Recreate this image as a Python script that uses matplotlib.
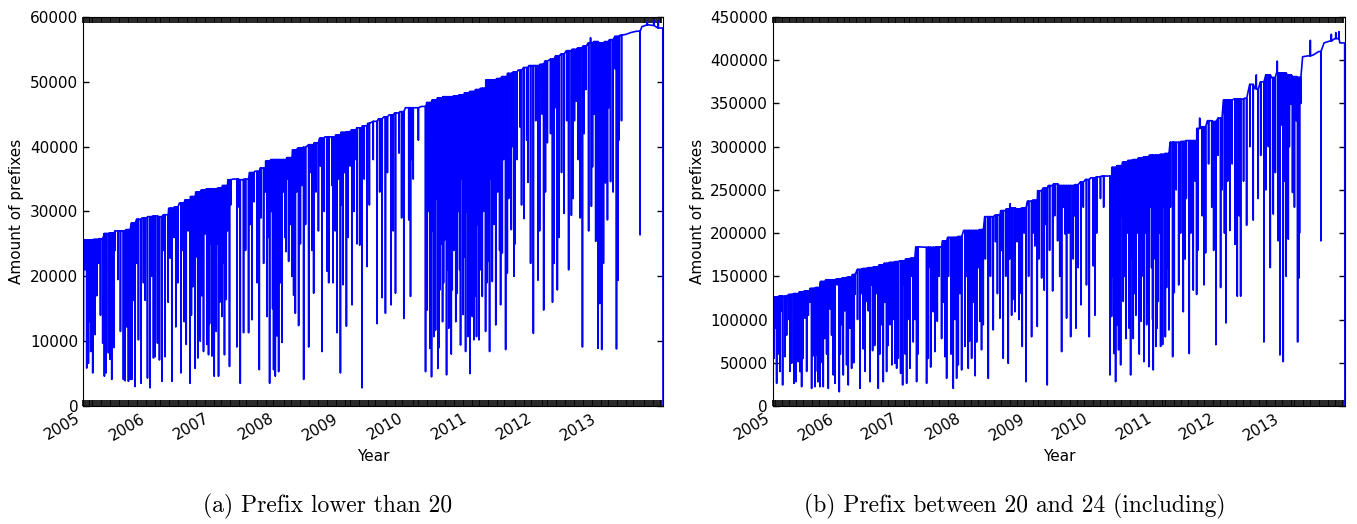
import numpy as np
import matplotlib
matplotlib.use('Agg')
import matplotlib.pyplot as plt
import matplotlib.dates as mdates

months = np.arange('2005-01', '2014-01', dtype='datetime64[M]')
end_date = np.datetime64('2013-12-30')

# monthly table level, prefixes shorter than /20
level_a = [25600, 25600, 25700, 25800, 26600, 26700, 27000, 27000, 27200, 28200, 28800, 29000,
           29200, 29300, 29200, 29500, 30500, 30700, 31300, 31800, 32300, 33000, 33300, 33500,
           33500, 33600, 34000, 34900, 35000, 34900, 35000, 36000, 36200, 36700, 37800, 38000,
           38000, 38000, 38300, 39500, 39800, 39900, 40300, 40600, 41300, 41500, 41500, 41800,
           42200, 42300, 42600, 42900, 43200, 43600, 43900, 44300, 44600, 44900, 45200, 45400,
           46000, 46000, 46000, 46200, 46800, 47200, 47500, 47700, 47700, 47800, 48000, 48300,
           48500, 48800, 49000, 50300, 50300, 50500, 50800, 51300, 51500, 51800, 52200, 52500,
           52500, 52700, 53200, 53500, 54000, 54300, 54800, 55000, 55200, 55500, 56000, 56200,
           56000, 56200, 56500, 57000, 57200, 57300, 57600, 57800, 58500, 58800, 58700, 58300]

# days with incomplete dumps: (decimal year, prefix count)
dips_a = [
    (2005.005, 9900), (2005.030, 21000), (2005.057, 5850), (2005.083, 6600), (2005.090, 13000),
    (2005.119, 8400), (2005.135, 19000), (2005.150, 5100), (2005.186, 11000), (2005.212, 17000),
    (2005.240, 22000), (2005.270, 14000), (2005.305, 9700), (2005.331, 4600), (2005.357, 5100),
    (2005.393, 8200), (2005.419, 7200), (2005.445, 4100), (2005.471, 19000), (2005.480, 9000),
    (2005.497, 24000), (2005.540, 19500), (2005.580, 11500), (2005.626, 4100), (2005.652, 3900),
    (2005.678, 12200), (2005.704, 3800), (2005.730, 4100), (2005.756, 4100), (2005.781, 16300),
    (2005.807, 3000), (2005.834, 22000), (2005.859, 10200), (2005.901, 3500), (2005.937, 19000),
    (2005.963, 16300), (2005.999, 4300), (2006.040, 2800), (2006.060, 20000), (2006.092, 7400),
    (2006.118, 7600), (2006.154, 9700), (2006.185, 7100), (2006.222, 3800), (2006.250, 24000),
    (2006.273, 7600), (2006.320, 16000), (2006.351, 22800), (2006.377, 3800), (2006.410, 26000),
    (2006.439, 12200), (2006.470, 19000), (2006.517, 5100), (2006.540, 24000), (2006.568, 13000),
    (2006.600, 9500), (2006.630, 27000), (2006.661, 3500), (2006.680, 14000), (2006.702, 18400),
    (2006.739, 5800), (2006.760, 23000), (2006.780, 7400), (2006.800, 26000), (2006.817, 10000),
    (2006.840, 17000), (2006.868, 8400), (2006.890, 26500), (2006.920, 9500), (2006.930, 20000),
    (2006.946, 7900), (2006.962, 12700), (2006.980, 25000), (2006.998, 7700), (2007.020, 27000),
    (2007.034, 4600), (2007.050, 19000), (2007.065, 11500), (2007.080, 25000), (2007.101, 4600),
    (2007.120, 16000), (2007.140, 28000), (2007.153, 13800), (2007.170, 22000), (2007.193, 7900),
    (2007.220, 16400), (2007.240, 27000), (2007.271, 6100), (2007.290, 31000), (2007.386, 9100),
    (2007.410, 30700), (2007.438, 3500), (2007.489, 11300), (2007.520, 24000), (2007.567, 11300),
    (2007.590, 28000), (2007.619, 13300), (2007.650, 31500), (2007.700, 19000), (2007.733, 5600),
    (2007.760, 29000), (2007.800, 22000), (2007.830, 33000), (2007.852, 13800), (2007.870, 26000),
    (2007.893, 3500), (2007.920, 30000), (2007.940, 15000), (2007.955, 5600), (2007.970, 24000),
    (2007.981, 4600), (2008.007, 10800), (2008.020, 27000), (2008.033, 5300), (2008.050, 32000),
    (2008.065, 19000), (2008.085, 9800), (2008.110, 33000), (2008.130, 26000), (2008.147, 23800),
    (2008.170, 35000), (2008.188, 22300), (2008.220, 28000), (2008.240, 20000), (2008.266, 17100),
    (2008.292, 14300), (2008.310, 33000), (2008.343, 12400), (2008.370, 25000), (2008.400, 34000),
    (2008.421, 4100), (2008.450, 28000), (2008.499, 9100), (2008.520, 36000), (2008.550, 24000),
    (2008.576, 17400), (2008.610, 33000), (2008.650, 27000), (2008.680, 37000), (2008.706, 8400),
    (2008.740, 30000), (2008.783, 20800), (2008.809, 19000), (2008.860, 34000), (2008.877, 19000),
    (2008.910, 27000), (2008.939, 11300), (2008.960, 35000), (2008.991, 5100), (2009.010, 31000),
    (2009.033, 18700), (2009.060, 36000), (2009.084, 12300), (2009.110, 26000), (2009.140, 37000),
    (2009.172, 15600), (2009.200, 30000), (2009.230, 38000), (2009.250, 25000), (2009.290, 24800),
    (2009.327, 2800), (2009.360, 35000), (2009.405, 21500), (2009.440, 31000), (2009.500, 38000),
    (2009.560, 12700), (2009.600, 33000), (2009.638, 16700), (2009.689, 14300), (2009.720, 36000),
    (2009.778, 15600), (2009.810, 27000), (2009.845, 17400), (2009.900, 39000), (2009.940, 29000),
    (2009.974, 13500), (2010.051, 28700), (2010.078, 16900), (2010.100, 38000), (2010.120, 35000),
    (2010.200, 41000), (2010.311, 5300), (2010.320, 24000), (2010.337, 14800), (2010.350, 30000),
    (2010.378, 8900), (2010.390, 18000), (2010.404, 4500), (2010.420, 27000), (2010.440, 10700),
    (2010.450, 20000), (2010.466, 11700), (2010.480, 32000), (2010.502, 5800), (2010.520, 9000),
    (2010.533, 17900), (2010.550, 25000), (2010.575, 13000), (2010.590, 19000), (2010.606, 25600),
    (2010.620, 33000), (2010.637, 4800), (2010.650, 21000), (2010.673, 12000), (2010.690, 28000),
    (2010.710, 8000), (2010.725, 17900), (2010.750, 24000), (2010.780, 13000), (2010.802, 17400),
    (2010.820, 30000), (2010.840, 21000), (2010.854, 9400), (2010.870, 35000), (2010.895, 14100),
    (2010.910, 23000), (2010.932, 8400), (2010.950, 30000), (2010.968, 10700), (2010.980, 18000),
    (2010.999, 5000), (2011.020, 26000), (2011.036, 13800), (2011.050, 33000), (2011.061, 10200),
    (2011.080, 17000), (2011.102, 10700), (2011.120, 28000), (2011.139, 10200), (2011.160, 21000),
    (2011.191, 16900), (2011.220, 30000), (2011.242, 11500), (2011.260, 19000), (2011.278, 22300),
    (2011.304, 8400), (2011.320, 35000), (2011.346, 19200), (2011.370, 28000), (2011.400, 12500),
    (2011.430, 33000), (2011.460, 24000), (2011.475, 15600), (2011.501, 23600), (2011.520, 38000),
    (2011.553, 8700), (2011.579, 20500), (2011.600, 32000), (2011.641, 27200), (2011.660, 40000),
    (2011.682, 20000), (2011.700, 25000), (2011.730, 38000), (2011.780, 43000), (2011.800, 31000),
    (2011.837, 28900), (2011.880, 41000), (2011.900, 34500), (2011.940, 22000), (2011.983, 11200),
    (2012.020, 44000), (2012.055, 19400), (2012.080, 27000), (2012.120, 45000), (2012.143, 14800),
    (2012.170, 33000), (2012.200, 40600), (2012.250, 42000), (2012.280, 16000), (2012.303, 22000),
    (2012.330, 46000), (2012.355, 17900), (2012.380, 26000), (2012.420, 36000), (2012.458, 29700),
    (2012.500, 44000), (2012.530, 21000), (2012.573, 29400), (2012.600, 32000), (2012.620, 44000),
    (2012.650, 47000), (2012.680, 38000), (2012.710, 29000), (2012.744, 9100), (2012.770, 42000),
    (2012.800, 48800), (2012.840, 27000), (2012.870, 56800), (2012.883, 30800), (2012.900, 36900),
    (2012.930, 45000), (2012.950, 25400), (2012.970, 31000), (2012.986, 8900), (2013.012, 15800),
    (2013.020, 40000), (2013.043, 8700), (2013.050, 48000), (2013.070, 22000), (2013.100, 34400),
    (2013.132, 28700), (2013.150, 46000), (2013.180, 34600), (2013.220, 33000), (2013.250, 52000),
    (2013.272, 8800), (2013.297, 19400), (2013.310, 41000), (2013.350, 44000), (2013.638, 26400),
    (2013.750, 59300), (2013.850, 59500), (2013.920, 59400),
]

# monthly table level, prefixes /20 to /24
level_b = [126000, 127000, 127000, 129000, 130000, 132000, 133000, 136000, 137000, 144000, 146000, 146000,
           147000, 148000, 149000, 152000, 158000, 159000, 160000, 161000, 163000, 165000, 166000, 167000,
           168000, 170000, 171000, 184000, 184000, 183500, 183500, 184000, 191000, 195000, 195000, 196000,
           203000, 203000, 203000, 204000, 219000, 219000, 221000, 226000, 228000, 229000, 228000, 229000,
           237000, 238000, 249000, 252000, 255000, 257000, 255000, 255000, 255000, 256000, 259000, 262000,
           264000, 265000, 266000, 266000, 276000, 278000, 282000, 284000, 285000, 287000, 288000, 290000,
           290000, 291000, 292000, 305000, 305000, 306000, 307000, 307000, 321000, 323000, 330000, 329000,
           333000, 354000, 354000, 355000, 355000, 356000, 372000, 367000, 375000, 383000, 380000, 385000,
           385000, 383000, 381000, 380000, 404000, 405000, 406000, 410000, 420000, 422000, 425000, 420000]

dips_b = [
    (2005.016, 55100), (2005.030, 90000), (2005.058, 26200), (2005.080, 60000), (2005.110, 39800),
    (2005.130, 110000), (2005.152, 24300), (2005.189, 57000), (2005.215, 82000), (2005.250, 100000),
    (2005.270, 40000), (2005.294, 49400), (2005.330, 26200), (2005.350, 90000), (2005.362, 28100),
    (2005.398, 51300), (2005.410, 70000), (2005.425, 39800), (2005.451, 22300), (2005.470, 55000),
    (2005.503, 101600), (2005.530, 40000), (2005.556, 105000), (2005.580, 120000), (2005.608, 20400),
    (2005.630, 58000), (2005.660, 22300), (2005.687, 59000), (2005.700, 40000), (2005.710, 28000),
    (2005.739, 22300), (2005.750, 50000), (2005.765, 82000), (2005.791, 22300), (2005.818, 78000),
    (2005.844, 60000), (2005.860, 115000), (2005.870, 20400), (2005.900, 112000), (2005.922, 82000),
    (2005.949, 35900), (2005.960, 60000), (2005.975, 26200), (2006.010, 140000), (2006.043, 16500),
    (2006.060, 60000), (2006.080, 94000), (2006.106, 35900), (2006.130, 110000), (2006.158, 47500),
    (2006.184, 24300), (2006.210, 90000), (2006.237, 43600), (2006.270, 50000), (2006.289, 129000),
    (2006.330, 100000), (2006.368, 20400), (2006.390, 130000), (2006.420, 66000), (2006.450, 40000),
    (2006.473, 121000), (2006.500, 110000), (2006.525, 28100), (2006.550, 140000), (2006.567, 64000),
    (2006.600, 70000), (2006.630, 130000), (2006.656, 20400), (2006.680, 60000), (2006.708, 94000),
    (2006.735, 28100), (2006.760, 120000), (2006.787, 39800), (2006.810, 70000), (2006.840, 94000),
    (2006.860, 140000), (2006.871, 47500), (2006.900, 100000), (2006.918, 49400), (2006.945, 43600),
    (2006.960, 130000), (2006.971, 55100), (2007.008, 37800), (2007.020, 100000), (2007.039, 24300),
    (2007.060, 140000), (2007.080, 60000), (2007.102, 26200), (2007.120, 100000), (2007.154, 43600),
    (2007.180, 150000), (2007.206, 74000), (2007.230, 100000), (2007.259, 28100), (2007.280, 60000),
    (2007.416, 26200), (2007.442, 55100), (2007.450, 160000), (2007.480, 45000), (2007.521, 109000),
    (2007.547, 62900), (2007.560, 100000), (2007.584, 98000), (2007.610, 150000), (2007.652, 78000),
    (2007.680, 120000), (2007.704, 57000), (2007.731, 32000), (2007.760, 150000), (2007.800, 60000),
    (2007.835, 20400), (2007.860, 100000), (2007.888, 32000), (2007.914, 47500), (2007.940, 130000),
    (2007.967, 41700), (2008.019, 68900), (2008.040, 150000), (2008.071, 43600), (2008.090, 75000),
    (2008.124, 55100), (2008.150, 120000), (2008.180, 35000), (2008.203, 74000), (2008.230, 160000),
    (2008.255, 98000), (2008.280, 65000), (2008.307, 94000), (2008.340, 170000), (2008.386, 32000),
    (2008.420, 150000), (2008.464, 88000), (2008.500, 190000), (2008.530, 130000), (2008.569, 101600),
    (2008.590, 180000), (2008.621, 55100), (2008.660, 150000), (2008.700, 49400), (2008.720, 170000),
    (2008.730, 234000), (2008.753, 105000), (2008.769, 123000), (2008.805, 109000), (2008.840, 190000),
    (2008.868, 100000), (2008.880, 130000), (2008.920, 68900), (2008.950, 200000), (2008.978, 28100),
    (2009.020, 150000), (2009.067, 80100), (2009.090, 200000), (2009.120, 185000), (2009.156, 92000),
    (2009.180, 170000), (2009.225, 148000), (2009.266, 134000), (2009.290, 210000), (2009.313, 24300),
    (2009.350, 180000), (2009.398, 133000), (2009.430, 220000), (2009.476, 191000), (2009.510, 150000),
    (2009.539, 62900), (2009.570, 230000), (2009.591, 199000), (2009.617, 101600), (2009.650, 200000),
    (2009.681, 80100), (2009.722, 170000), (2009.740, 220000), (2009.764, 90000), (2009.800, 160000),
    (2009.843, 117000), (2009.880, 230000), (2009.930, 140000), (2009.974, 80100), (2010.037, 162000),
    (2010.063, 105000), (2010.090, 200000), (2010.150, 240000), (2010.200, 230000), (2010.299, 35900),
    (2010.310, 200000), (2010.325, 103600), (2010.340, 150000), (2010.362, 60700), (2010.388, 28100),
    (2010.400, 180000), (2010.414, 94000), (2010.435, 64800), (2010.450, 130000), (2010.467, 47500),
    (2010.490, 220000), (2010.508, 121000), (2010.530, 150000), (2010.550, 78000), (2010.570, 200000),
    (2010.600, 90000), (2010.624, 35900), (2010.640, 170000), (2010.665, 78000), (2010.680, 130000),
    (2010.708, 105000), (2010.730, 200000), (2010.760, 60000), (2010.786, 98000), (2010.800, 150000),
    (2010.833, 51300), (2010.850, 200000), (2010.876, 94000), (2010.890, 120000), (2010.912, 45500),
    (2010.930, 230000), (2010.954, 160000), (2010.970, 100000), (2010.980, 41700), (2011.010, 170000),
    (2011.022, 68900), (2011.040, 90000), (2011.058, 121000), (2011.080, 200000), (2011.096, 68900),
    (2011.110, 130000), (2011.127, 71000), (2011.150, 230000), (2011.170, 80000), (2011.190, 137000),
    (2011.210, 160000), (2011.226, 88000), (2011.250, 230000), (2011.285, 57000), (2011.300, 180000),
    (2011.310, 131000), (2011.340, 250000), (2011.380, 140000), (2011.410, 200000), (2011.452, 109000),
    (2011.480, 170000), (2011.500, 240000), (2011.546, 60700), (2011.570, 200000), (2011.609, 134000),
    (2011.640, 260000), (2011.662, 129000), (2011.680, 180000), (2011.710, 333000), (2011.750, 220000),
    (2011.780, 140000), (2011.803, 177000), (2011.850, 280000), (2011.900, 230000), (2011.930, 180000),
    (2011.965, 70900), (2012.000, 290000), (2012.039, 137000), (2012.060, 250000), (2012.100, 200000),
    (2012.123, 96000), (2012.150, 260000), (2012.186, 203000), (2012.220, 280000), (2012.264, 187000),
    (2012.301, 127000), (2012.330, 220000), (2012.354, 127000), (2012.400, 260000), (2012.448, 209000),
    (2012.500, 300000), (2012.552, 215000), (2012.600, 383000), (2012.630, 240000), (2012.670, 290000),
    (2012.720, 74000), (2012.750, 250000), (2012.790, 300000), (2012.820, 160000), (2012.867, 222000),
    (2012.900, 270000), (2012.930, 399000), (2012.945, 191000), (2012.972, 59000), (2013.000, 325000),
    (2013.024, 51300), (2013.040, 260000), (2013.070, 150000), (2013.103, 193000), (2013.120, 300000),
    (2013.150, 349000), (2013.170, 247000), (2013.200, 230000), (2013.230, 330000), (2013.250, 74000),
    (2013.270, 148000), (2013.280, 200000), (2013.300, 350000), (2013.450, 423000), (2013.616, 191000),
    (2013.780, 430000), (2013.850, 432000), (2013.900, 433000),
]


def year_to_num(years):
    start = mdates.date2num(np.datetime64('2005-01-01'))
    return start + (np.asarray(years, dtype=float) - 2005.0) * 365.25


def build_series(levels, dips):
    starts = mdates.date2num(months.astype('datetime64[D]'))
    end = mdates.date2num(end_date)
    dips = sorted((year_to_num(t), v) for t, v in dips)
    xs, ys = [], []
    j = 0
    for i, start in enumerate(starts):
        xs.append(start)
        ys.append(levels[i])
        nxt = starts[i + 1] if i + 1 < len(starts) else end
        while j < len(dips) and dips[j][0] < nxt:
            t, v = dips[j]
            xs += [t - 0.5, t, t + 0.5]
            ys += [levels[i], v, levels[i]]
            j += 1
    xs += [end - 1.5, end]
    ys += [levels[-1], 0]
    return xs, ys


def style_axis(ax, ymax, ystep):
    ax.set_xlim(mdates.date2num(np.datetime64('2005-01-01')), mdates.date2num(end_date))
    ax.set_ylim(0, ymax)
    ax.set_yticks(np.arange(0, ymax + 1, ystep))
    ax.xaxis.set_major_locator(mdates.YearLocator())
    ax.xaxis.set_major_formatter(mdates.DateFormatter('%Y'))
    ax.xaxis.set_minor_locator(mdates.DayLocator(bymonthday=[1, 11, 21]))
    ax.tick_params(which='both', direction='in', top=True, right=True,
                   length=4, width=1, labelsize=11)
    ax.tick_params(axis='x', which='both', width=1.2)
    for lbl in ax.get_xticklabels():
        lbl.set_rotation(30)
        lbl.set_ha('right')
    ax.set_xlabel('Year', fontsize=11)
    ax.set_ylabel('Amount of prefixes', fontsize=11)


fig = plt.figure(figsize=(13.57, 5.24), dpi=100)
ax1 = fig.add_axes([0.0612, 0.2252, 0.4274, 0.7424])
ax2 = fig.add_axes([0.5696, 0.2252, 0.4215, 0.7424])

x, y = build_series(level_a, dips_a)
ax1.plot(x, y, color='#0000ff', linewidth=1.2)
style_axis(ax1, 60000, 10000)

x, y = build_series(level_b, dips_b)
ax2.plot(x, y, color='#0000ff', linewidth=1.2)
style_axis(ax2, 450000, 50000)

fig.text(328 / 1357, 1 - 506 / 524, '(a) Prefix lower than 20',
         family='cmr10', fontsize=17, ha='center', va='center')
fig.text(1015 / 1357, 1 - 506 / 524, '(b) Prefix between 20 and 24 (including)',
         family='cmr10', fontsize=17, ha='center', va='center')

fig.savefig('out.png', dpi=100)
